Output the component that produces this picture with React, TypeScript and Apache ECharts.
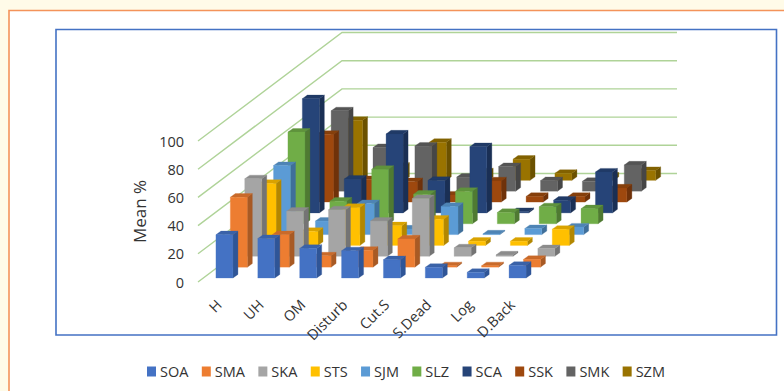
import React, { useEffect, useRef } from "react";
import * as echarts from "echarts";

const categories = ["H", "UH", "OM", "Disturb", "Cut.S", "S.Dead", "Log", "D.Back"];
const yTicks = [0, 20, 40, 60, 80, 100];

const SOA = [30.7, 28, 21, 19.3, 13, 7.6, 4, 9];
const SMA = [49.6, 23, 8, 12, 20, 1, 1, 5.5];
const SKA = [55, 32, 33, 25, 41, 6, 1, 5.5];
const STS = [44, 10, 27, 14, 18.6, 3, 3, 11.5];
const SJM = [49, 9.6, 22, 4, 20, 0.5, 4.3, 5.4];
const SLZ = [65, 16, 38.6, 21, 23, 8, 12, 10.7];
const SCA = [81, 24, 56, 23, 47, 1, 9, 29];
const SSK = [48, 16, 14.5, 5, 15, 4, 4, 10];
const SMK = [57, 31, 32, 10, 17.5, 7.5, 7, 18.6];
const SZM = [42.6, 10, 27, 6, 15, 5, 3, 7];

const names = ["SOA", "SMA", "SKA", "STS", "SJM", "SLZ", "SCA", "SSK", "SMK", "SZM"];
const rows = [SOA, SMA, SKA, STS, SJM, SLZ, SCA, SSK, SMK, SZM];
const frontColors = ["#4472C4", "#ED7D31", "#A5A5A5", "#FFC000", "#5B9BD5", "#70AD47", "#264478", "#9E480E", "#636363", "#997300"];
const sideColors = ["#2F5597", "#A85A24", "#747474", "#B38700", "#3F6F9A", "#4F7A32", "#1A2F54", "#6F320A", "#464646", "#6B5100"];
const topColors = ["#3A62A8", "#C96A2A", "#8C8C8C", "#D9A300", "#4E84B5", "#5F933C", "#203A66", "#86400C", "#545454", "#826200"];

// Oblique projection of the floor: one depth row moves a mark right and up.
const ROW_DX = 14.4;
const ROW_DY = 10.85;
const ROW_COUNT = 10;
const BAR_W = 17;
const BAR_DX = 5;
const BAR_DY = 3.6;
const BAR_SHIFT_X = -3;
const BAR_SHIFT_Y = -4;

const font = "'Open Sans', sans-serif";
const textColor = "#333333";

function renderBar(row: number) {
  return (_params: any, api: any) => {
    const base = api.coord([api.value(0), 0]);
    const top = api.coord([api.value(0), api.value(1)]);
    const x0 = base[0] + BAR_SHIFT_X + ROW_DX * row;
    const y0 = base[1] + BAR_SHIFT_Y - ROW_DY * row;
    const y1 = y0 - (base[1] - top[1]);
    const x1 = x0 + BAR_W;
    const face = (points: number[][], fill: string) => ({
      type: "polygon",
      shape: { points },
      style: { fill, stroke: fill, lineWidth: 0.3 },
    });
    return {
      type: "group",
      children: [
        face([[x1, y0], [x1 + BAR_DX, y0 - BAR_DY], [x1 + BAR_DX, y1 - BAR_DY], [x1, y1]], sideColors[row]),
        face([[x0, y1], [x1, y1], [x1 + BAR_DX, y1 - BAR_DY], [x0 + BAR_DX, y1 - BAR_DY]], topColors[row]),
        face([[x0, y0], [x1, y0], [x1, y1], [x0, y1]], frontColors[row]),
      ],
    };
  };
}

function renderGridLine(params: any, api: any) {
  const p = api.coord([0, api.value(0)]);
  const sys = params.coordSys;
  const dx = ROW_DX * ROW_COUNT;
  const dy = ROW_DY * ROW_COUNT;
  return {
    type: "polyline",
    shape: {
      points: [
        [sys.x, p[1]],
        [sys.x + dx, p[1] - dy],
        [sys.x + dx + sys.width, p[1] - dy],
      ],
    },
    style: { fill: "none", stroke: "#AFD398", lineWidth: 1.4 },
  };
}

export default function App() {
  const ref = useRef<HTMLDivElement>(null);
  useEffect(() => {
    const chart = echarts.init(ref.current!, undefined, { renderer: "svg" });
    chart.setOption({
      animation: false,
      backgroundColor: "#FFFBE8",
      textStyle: { fontFamily: font },
      graphic: [
        {
          type: "rect",
          z: -2,
          silent: true,
          shape: { x: 9, y: 10.5, width: 800, height: 400 },
          style: { fill: "#FFFFFF", stroke: "#F4935A", lineWidth: 1.6 },
        },
        {
          type: "rect",
          z: -1,
          silent: true,
          shape: { x: 56, y: 29.5, width: 720.5, height: 305.5 },
          style: { fill: "#FFFFFF", stroke: "#4472C4", lineWidth: 1.6 },
        },
      ],
      grid: { left: 198, top: 141, width: 335, height: 141, containLabel: false },
      legend: {
        data: names,
        left: 147,
        top: 364,
        padding: 0,
        icon: "rect",
        itemWidth: 9,
        itemHeight: 10,
        itemGap: 13.4,
        textStyle: { fontFamily: font, fontSize: 14.5, color: textColor, padding: [0, 0, 0, -1] },
        selectedMode: false,
      },
      xAxis: {
        type: "category",
        data: categories,
        axisLine: { show: false },
        axisTick: { show: false },
        axisLabel: { rotate: 45, interval: 0, margin: 20, fontFamily: font, fontSize: 14.5, color: textColor },
      },
      yAxis: {
        type: "value",
        min: 0,
        max: 100,
        interval: 20,
        name: "Mean %",
        nameLocation: "middle",
        nameGap: 50,
        nameTextStyle: { fontFamily: font, fontSize: 17, color: textColor },
        axisLine: { show: false },
        axisTick: { show: false },
        splitLine: { show: false },
        axisLabel: { margin: 14, fontFamily: font, fontSize: 14.5, color: textColor },
      },
      series: [
        {
          type: "custom",
          name: "wall",
          z: 1,
          silent: true,
          data: yTicks.map((t) => [t]),
          encode: { y: 0 },
          renderItem: renderGridLine,
        },
        ...names.map((name, row) => ({
          type: "custom",
          name,
          z: 2 + ROW_COUNT - row,
          silent: true,
          itemStyle: { color: frontColors[row] },
          data: rows[row].map((v, c) => [c, v]),
          encode: { x: 0, y: 1 },
          renderItem: renderBar(row),
        })),
      ],
    });
    return () => chart.dispose();
  }, []);
  return <div ref={ref} style={{ position: "absolute", left: 0, top: 0, width: 784, height: 391 }} />;
}
